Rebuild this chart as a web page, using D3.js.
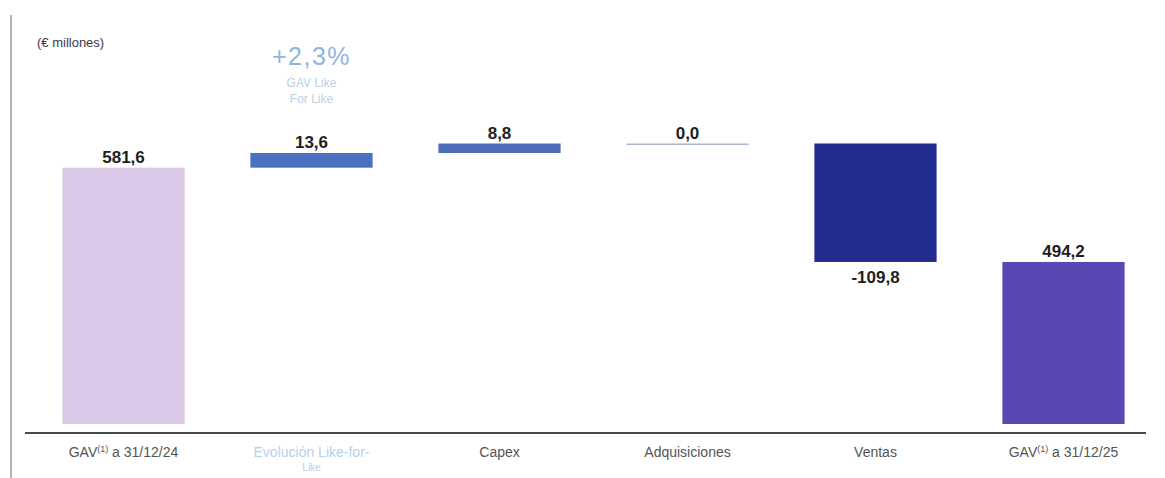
<!DOCTYPE html>
<html lang="es">
<head>
<meta charset="utf-8">
<title>Evolución del GAV</title>
<script src="https://cdn.jsdelivr.net/npm/d3@7"></script>
<style>
  html, body { margin: 0; padding: 0; background: #ffffff; }
  svg { display: block; font-family: "Liberation Sans", Arial, sans-serif; }
</style>
</head>
<body>
<svg id="chart" width="1165" height="478"></svg>
<script>
// Waterfall of the portfolio GAV (€ millones)
const categories = ["GAV a 31/12/24", "Evolución Like-for-Like", "Capex", "Adquisiciones", "Ventas", "GAV a 31/12/25"];
const values = [581.6, 13.6, 8.8, 0.0, -109.8, 494.2];
const kinds = ["total", "delta", "delta", "delta", "delta", "total"];
const barColors = ["#d9c8e6", "#4b6fc1", "#4e6eb9", "#a9b3d3", "#222c8c", "#5947b3"];
const axisFloor = 344;          // the value axis is cut here
const lflValue = "+2,3%";
const lflLines = ["GAV Like", "For Like"];

const fmt = v => v.toFixed(1).replace(".", ",");

// running totals for the floating steps
let running = 0;
const steps = values.map((v, i) => {
  let start, end;
  if (kinds[i] === "total") { start = axisFloor; end = v; running = v; }
  else { start = running; end = running + v; running = end; }
  return { cat: categories[i], value: v, kind: kinds[i], start, end, color: barColors[i] };
});
const topValue = d3.max(steps, d => Math.max(d.start, d.end));

const svg = d3.select("#chart");

const x = d3.scaleBand()
  .domain(categories)
  .range([29.5, 1157.5])
  .paddingInner(0.35)
  .paddingOuter(0.175);

const y = d3.scaleLinear()
  .domain([axisFloor, topValue])
  .range([424, 143.5]);

// left frame line
svg.append("line")
  .attr("x1", 11).attr("x2", 11).attr("y1", 15).attr("y2", 478)
  .attr("stroke", "#b4b4b4").attr("stroke-width", 2);

// unit caption
svg.append("text")
  .attr("x", 37).attr("y", 47)
  .attr("font-size", 13).attr("fill", "#3a3a52")
  .text("(€ millones)");

// bars
svg.append("g").selectAll("rect")
  .data(steps)
  .join("rect")
  .attr("x", d => x(d.cat))
  .attr("width", x.bandwidth())
  .attr("y", d => Math.min(y(d.start), y(d.end)))
  .attr("height", d => Math.max(Math.abs(y(d.start) - y(d.end)), 1.5))
  .attr("fill", d => d.color);

// value labels: above rising/total bars, below falling ones
svg.append("g").selectAll("text")
  .data(steps)
  .join("text")
  .attr("x", d => x(d.cat) + x.bandwidth() / 2)
  .attr("y", d => d.value < 0
    ? Math.max(y(d.start), y(d.end)) + 21
    : Math.min(y(d.start), y(d.end)) - 5)
  .attr("text-anchor", "middle")
  .attr("font-size", 17)
  .attr("font-weight", "bold")
  .attr("fill", "#1e1e1e")
  .text(d => fmt(d.value));

// like-for-like note above the second step
const lflX = x(categories[1]) + x.bandwidth() / 2;
svg.append("text")
  .attr("x", lflX).attr("y", 65)
  .attr("text-anchor", "middle")
  .attr("font-size", 25)
  .attr("letter-spacing", 1.5)
  .attr("fill", "#8fb4de")
  .text(lflValue);
svg.append("g").selectAll("text")
  .data(lflLines)
  .join("text")
  .attr("x", lflX)
  .attr("y", (d, i) => 87 + i * 16)
  .attr("text-anchor", "middle")
  .attr("font-size", 12)
  .attr("fill", "#bccfe4")
  .text(d => d);

// category axis
const axis = svg.append("g")
  .attr("transform", "translate(0,433)")
  .call(d3.axisBottom(x).tickSize(0).tickPadding(14));
axis.select(".domain")
  .attr("d", "M25,0H1146")
  .attr("stroke", "#4a4a4a")
  .attr("stroke-width", 2);
axis.selectAll(".tick text")
  .attr("font-size", 14)
  .attr("font-family", "'Liberation Sans', Arial, sans-serif")
  .attr("fill", (d, i) => i === 1 ? "#b6d1ea" : "#555555")
  .each(function(d) {
    const t = d3.select(this);
    if (d.startsWith("GAV")) {
      const rest = d.slice(3);
      t.text("GAV");
      t.append("tspan").attr("dy", -5).attr("font-size", 9).text("(1)");
      t.append("tspan").attr("dy", 5).text(rest);
    } else if (d.startsWith("Evolución")) {
      t.text("Evolución Like-for-");
      t.append("tspan").attr("x", 0).attr("dy", 14).attr("font-size", 10).text("Like");
    }
  });
</script>
</body>
</html>
